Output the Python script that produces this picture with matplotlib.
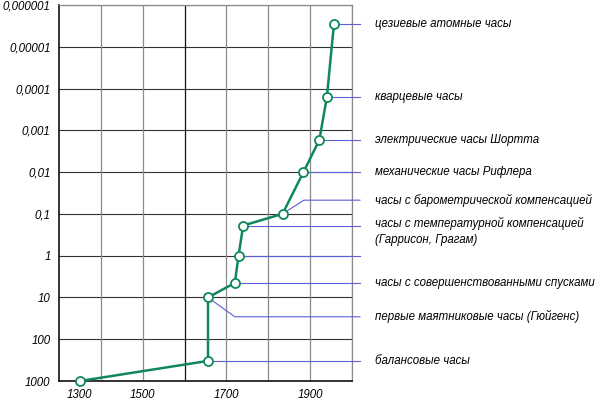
import numpy as np
import matplotlib
matplotlib.use("Agg")
import matplotlib.pyplot as plt

plt.rcParams['font.family'] = ['Liberation Sans', 'DejaVu Sans']

# years and clock error (seconds per day)
years = [1350, 1656, 1656, 1720, 1729, 1740, 1834, 1884, 1922, 1940, 1957]
errors = [1000, 330, 10, 4.5, 1, 0.19, 0.1, 0.01, 0.0017, 0.00016, 0.0000028]

# labels: (point index, label y, elbow x or None, text)
labels = [
    (10, 0.0000028, None, "цезиевые атомные часы"),
    (9, 0.00016, None, "кварцевые часы"),
    (8, 0.0017, None, "электрические часы Шортта"),
    (7, 0.01, None, "механические часы Рифлера"),
    (6, 0.047, 1885, "часы с барометрической компенсацией"),
    (5, 0.19, None, "часы с температурной компенсацией\n(Гаррисон, Грагам)"),
    (4, 1, None, ""),
    (3, 4.5, None, "часы с совершенствованными спусками"),
    (2, 29, 1720, "первые маятниковые часы (Гюйгенс)"),
    (1, 330, None, "балансовые часы"),
]

ytick_vals = [1000, 100, 10, 1, 0.1, 0.01, 0.001, 0.0001, 0.00001, 0.000001]
ytick_labels = ["1000", "100", "10", "1", "0,1", "0,01", "0,001", "0,0001",
                "0,00001", "0,000001"]
xtick_pos = [1350, 1500, 1700, 1900]
xtick_labels = ["1300", "1500", "1700", "1900"]

green = "#10875c"
leader = "#5e5ed6"

fig = plt.figure(figsize=(5.97, 4.0), dpi=100)
ax = fig.add_axes([59 / 597, 1 - 381 / 400, 293 / 597, 376 / 400])
ax.set_yscale("log")
ax.set_xlim(1300, 2000)
ax.set_ylim(1000, 0.000001)

# grid
for yv in ytick_vals:
    ax.axhline(yv, color="#333333", lw=0.8, zorder=1)
for xv in range(1400, 2001, 100):
    c = "#111111" if xv == 1600 else "#8a8a8a"
    ax.axvline(xv, color=c, lw=0.9, zorder=1)

for s in ["top", "right"]:
    ax.spines[s].set_color("#8a8a8a")
    ax.spines[s].set_linewidth(0.9)
for s in ["left", "bottom"]:
    ax.spines[s].set_color("#111111")
    ax.spines[s].set_linewidth(1.2)

ax.plot(years, errors, color=green, lw=1.8, zorder=4, clip_on=False,
        marker="o", ms=6.5, mfc="white", mec=green, mew=1.3)

x_end = 2019
x_text = 2055
for idx, ly, elbow, txt in labels:
    px, py = years[idx], errors[idx]
    if elbow is None:
        xs, ys = [px, x_end], [py, py]
    else:
        xs, ys = [px, elbow, x_end], [py, ly, ly]
    ax.plot(xs, ys, color=leader, lw=0.8, zorder=3, clip_on=False)
    if txt:
        if "\n" in txt:
            ax.annotate(txt, xy=(x_text, ly), xytext=(0, 6),
                        textcoords="offset points", ha="left", va="top",
                        fontsize=8.3, style="italic", linespacing=1.35,
                        annotation_clip=False)
        else:
            ax.text(x_text, ly, txt, ha="left", va="center", fontsize=8.3,
                    style="italic", clip_on=False)

ax.set_yticks(ytick_vals)
ax.set_yticklabels(ytick_labels)
ax.minorticks_off()
ax.set_xticks(xtick_pos)
ax.set_xticklabels(xtick_labels)
ax.tick_params(axis="both", length=0, labelsize=8.3)
ax.tick_params(axis="y", pad=6)
ax.tick_params(axis="x", pad=6)
for lab in ax.get_xticklabels() + ax.get_yticklabels():
    lab.set_style("italic")

fig.savefig("out.png", dpi=100)
